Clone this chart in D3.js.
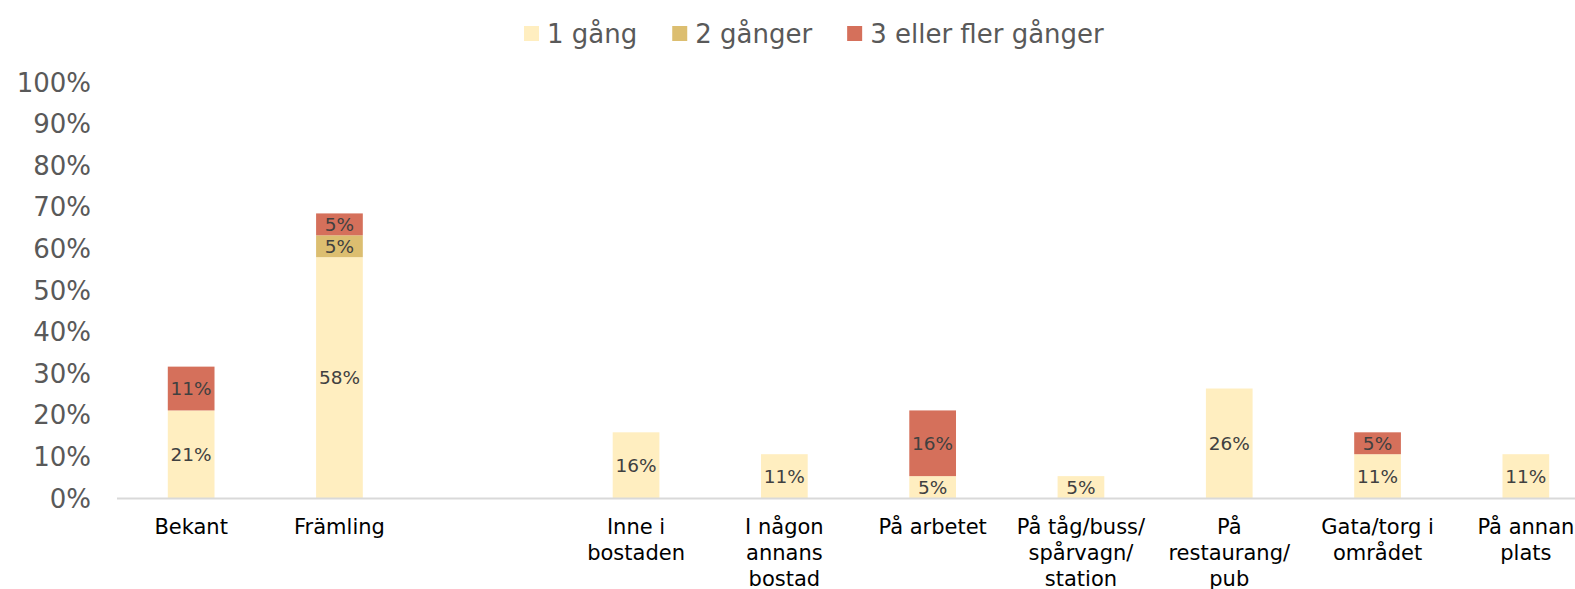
<!DOCTYPE html>
<html>
<head>
<meta charset="utf-8">
<script src="https://cdn.jsdelivr.net/npm/d3@7"></script>
<style>
  html, body { margin: 0; padding: 0; background: #fff; overflow: hidden; }
  svg { display: block; font-family: "DejaVu Sans", Verdana, sans-serif; }
</style>
</head>
<body>
<svg id="chart" width="1575" height="589"></svg>
<script>
// ---- Data ----
const categories = ["Bekant", "Främling", "", "Inne i\nbostaden", "I någon\nannans\nbostad", "På arbetet",
  "På tåg/buss/\nspårvagn/\nstation", "På\nrestaurang/\npub", "Gata/torg i\nområdet", "På annan\nplats"];
const seriesNames = ["1 gång", "2 gånger", "3 eller fler gånger"];
const seriesColors = ["#FFEEC0", "#DCBE70", "#D5705B"];
const once =      [21.05, 57.89, 0, 15.79, 10.53, 5.26, 5.26, 26.32, 10.53, 10.53];
const twice =     [0,     5.26,  0, 0,     0,     0,    0,    0,     0,     0];
const threePlus = [10.53, 5.26,  0, 0,     0,     15.79, 0,   0,     5.26,  0];
const yTicks = [0, 10, 20, 30, 40, 50, 60, 70, 80, 90, 100];

// ---- Layout ----
const svg = d3.select("#chart");
const x0 = 117, x1 = 1600, yBottom = 498, yTop = 82;

const keys = categories.map((c, i) => "k" + i);
const x = d3.scaleBand().domain(keys).range([x0, x1]).paddingInner(0.685).paddingOuter(0.3425);
const y = d3.scaleLinear().domain([0, 100]).range([yBottom, yTop]);

const rows = keys.map((k, i) => ({ key: k, s0: once[i], s1: twice[i], s2: threePlus[i] }));
const stack = d3.stack().keys(["s0", "s1", "s2"]);
const stacked = stack(rows);

// Y axis labels (no line)
const yAxis = d3.axisLeft(y).tickValues(yTicks).tickFormat(d => d + "%").tickSize(0).tickPadding(0);
const yg = svg.append("g").attr("transform", "translate(91,0)").call(yAxis);
yg.select(".domain").remove();
yg.selectAll("text").attr("font-size", 26).attr("fill", "#595959")
  .attr("font-family", "DejaVu Sans, Verdana, sans-serif").attr("dy", "0.35em");

// Bars
const layers = svg.append("g").selectAll("g").data(stacked).join("g")
  .attr("fill", (d, i) => seriesColors[i]);
layers.selectAll("rect").data(d => d.filter(p => p[1] - p[0] > 0)).join("rect")
  .attr("x", d => x(d.data.key))
  .attr("width", x.bandwidth())
  .attr("y", d => y(d[1]))
  .attr("height", d => y(d[0]) - y(d[1]));

// Data labels
const fmt = v => Math.round(v) + "%";
svg.append("g").selectAll("g").data(stacked).join("g")
  .selectAll("text").data(d => d.filter(p => p[1] - p[0] > 0)).join("text")
  .attr("x", d => x(d.data.key) + x.bandwidth() / 2)
  .attr("y", d => (y(d[0]) + y(d[1])) / 2)
  .attr("dy", "0.36em")
  .attr("text-anchor", "middle")
  .attr("font-size", 18.5)
  .attr("fill", "#404040")
  .text(d => fmt(d[1] - d[0]));

// X axis line
svg.append("line").attr("x1", x0).attr("x2", x1).attr("y1", yBottom + 0.5).attr("y2", yBottom + 0.5)
  .attr("stroke", "#D9D9D9").attr("stroke-width", 2);

// Category labels
const xAxis = d3.axisBottom(x).tickSize(0).tickFormat((k, i) => "");
const xg = svg.append("g").attr("transform", `translate(0,${yBottom})`).call(xAxis);
xg.select(".domain").remove();
xg.selectAll(".tick text").each(function(k, i) {
  const lines = categories[keys.indexOf(k)].split("\n");
  const t = d3.select(this).attr("y", 0).attr("dy", null)
    .attr("font-size", 21).attr("fill", "#000")
    .attr("font-family", "DejaVu Sans, Verdana, sans-serif");
  lines.forEach((ln, j) => {
    t.append("tspan").attr("x", 0).attr("y", 36 + j * 26).text(ln);
  });
});

// Legend
const legend = svg.append("g");
let lx = 524;
seriesNames.forEach((name, i) => {
  legend.append("rect").attr("x", lx).attr("y", 26).attr("width", 15).attr("height", 15)
    .attr("fill", seriesColors[i]);
  const t = legend.append("text").attr("x", lx + 23).attr("y", 43)
    .attr("font-size", 26).attr("fill", "#595959").text(name);
  lx = lx + 23 + t.node().getComputedTextLength() + 35;
});
</script>
</body>
</html>
